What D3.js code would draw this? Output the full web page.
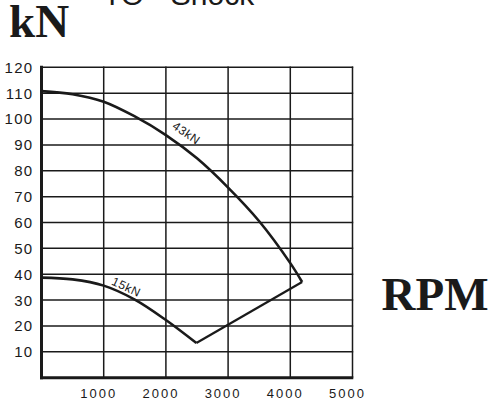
<!DOCTYPE html>
<html>
<head>
<meta charset="utf-8">
<script src="https://cdn.jsdelivr.net/npm/d3@7"></script>
<style>
  html, body { margin: 0; padding: 0; background: #fff; }
  svg { display: block; }
</style>
</head>
<body>
<svg id="chart" width="492" height="408"></svg>
<script>
// ---- data ----
const xTicks = [1000, 2000, 3000, 4000, 5000];
const yTicks = [10, 20, 30, 40, 50, 60, 70, 80, 90, 100, 110, 120];
const upperRpm = [0, 500, 1000, 1500, 2000, 2500, 3000, 3500, 4000, 4190];
const upperKN  = [110.8, 109.6, 106.7, 101, 93.8, 84.8, 73.5, 60.5, 44.3, 37];
const lowerRpm = [0, 500, 1000, 1500, 2000, 2490];
const lowerKN  = [38.7, 38.0, 35.6, 30.2, 22.3, 13.4];
const linkRpm = [2490, 4190];
const linkKN  = [13.4, 37];
const curveLabels = ["43kN", "15kN"];
const labelRpm = [2330, 1364];
const labelKN = [94.6, 35.1];
const labelAngle = [35, 25];
const titleText = "TO - Shock";
const yTitle = "kN";
const xTitle = "RPM";

// ---- drawing ----
const svg = d3.select("#chart");
const x = d3.scaleLinear().domain([0, 5000]).range([41.5, 352.5]);
const y = d3.scaleLinear().domain([0, 120]).range([377.7, 67.3]);
const ink = "#1a1a1a";

// grid
svg.append("g").selectAll("line").data(xTicks).join("line")
  .attr("x1", d => x(d)).attr("x2", d => x(d))
  .attr("y1", y(120) - 0.7).attr("y2", y(0))
  .attr("stroke", ink).attr("stroke-width", 1.5);
svg.append("g").selectAll("line").data(yTicks).join("line")
  .attr("x1", x(0)).attr("x2", x(5000) + 0.7)
  .attr("y1", d => y(d)).attr("y2", d => y(d))
  .attr("stroke", ink).attr("stroke-width", 1.5);

// axes (thick)
svg.append("line").attr("x1", x(0)).attr("x2", x(0))
  .attr("y1", y(120) - 1.5).attr("y2", y(0) + 1.5)
  .attr("stroke", ink).attr("stroke-width", 3);
svg.append("line").attr("x1", x(0) - 1.5).attr("x2", x(5000) + 0.8)
  .attr("y1", y(0)).attr("y2", y(0))
  .attr("stroke", ink).attr("stroke-width", 3);

// tick labels
svg.append("g").selectAll("text").data(yTicks).join("text")
  .attr("x", 33.5).attr("y", d => y(d))
  .attr("dy", "0.36em")
  .attr("text-anchor", "end")
  .attr("font-family", "Liberation Sans, Arial, sans-serif")
  .attr("font-size", 15).attr("letter-spacing", 1.3)
  .attr("fill", ink)
  .text(d => d);
svg.append("g").selectAll("text").data(xTicks).join("text")
  .attr("x", d => x(d) - 5).attr("y", 397.5)
  .attr("text-anchor", "middle")
  .attr("font-family", "Liberation Sans, Arial, sans-serif")
  .attr("font-size", 13).attr("letter-spacing", 2)
  .attr("fill", ink)
  .text(d => d);

// curves
const smooth = d3.line().x(d => x(d[0])).y(d => y(d[1])).curve(d3.curveCatmullRom.alpha(0.5));
const straight = d3.line().x(d => x(d[0])).y(d => y(d[1]));
svg.append("path").attr("d", smooth(d3.zip(upperRpm, upperKN)))
  .attr("fill", "none").attr("stroke", ink).attr("stroke-width", 2.6);
svg.append("path").attr("d", smooth(d3.zip(lowerRpm, lowerKN)))
  .attr("fill", "none").attr("stroke", ink).attr("stroke-width", 2.6);
svg.append("path").attr("d", straight(d3.zip(linkRpm, linkKN)))
  .attr("fill", "none").attr("stroke", ink).attr("stroke-width", 2.2);

// curve labels
svg.append("g").selectAll("text").data(curveLabels).join("text")
  .attr("transform", (d, i) => `translate(${x(labelRpm[i])},${y(labelKN[i])}) rotate(${labelAngle[i]})`)
  .attr("text-anchor", "middle").attr("dy", "0.35em")
  .attr("font-family", "Liberation Sans, Arial, sans-serif")
  .attr("font-size", 12).attr("letter-spacing", 0.6)
  .attr("fill", ink)
  .text(d => d);

// titles
svg.append("text").attr("x", 103).attr("y", 5)
  .attr("font-family", "Liberation Sans, Arial, sans-serif")
  .attr("font-size", 30).attr("fill", ink)
  .text(titleText);
svg.append("text").attr("x", 9).attr("y", 37)
  .attr("font-family", "Liberation Serif, Times New Roman, serif")
  .attr("font-weight", "bold").attr("font-size", 47).attr("fill", ink)
  .text(yTitle);
svg.append("text").attr("x", 381.5).attr("y", 310)
  .attr("font-family", "Liberation Serif, Times New Roman, serif")
  .attr("font-weight", "bold").attr("font-size", 47).attr("fill", ink)
  .text(xTitle);
</script>
</body>
</html>
